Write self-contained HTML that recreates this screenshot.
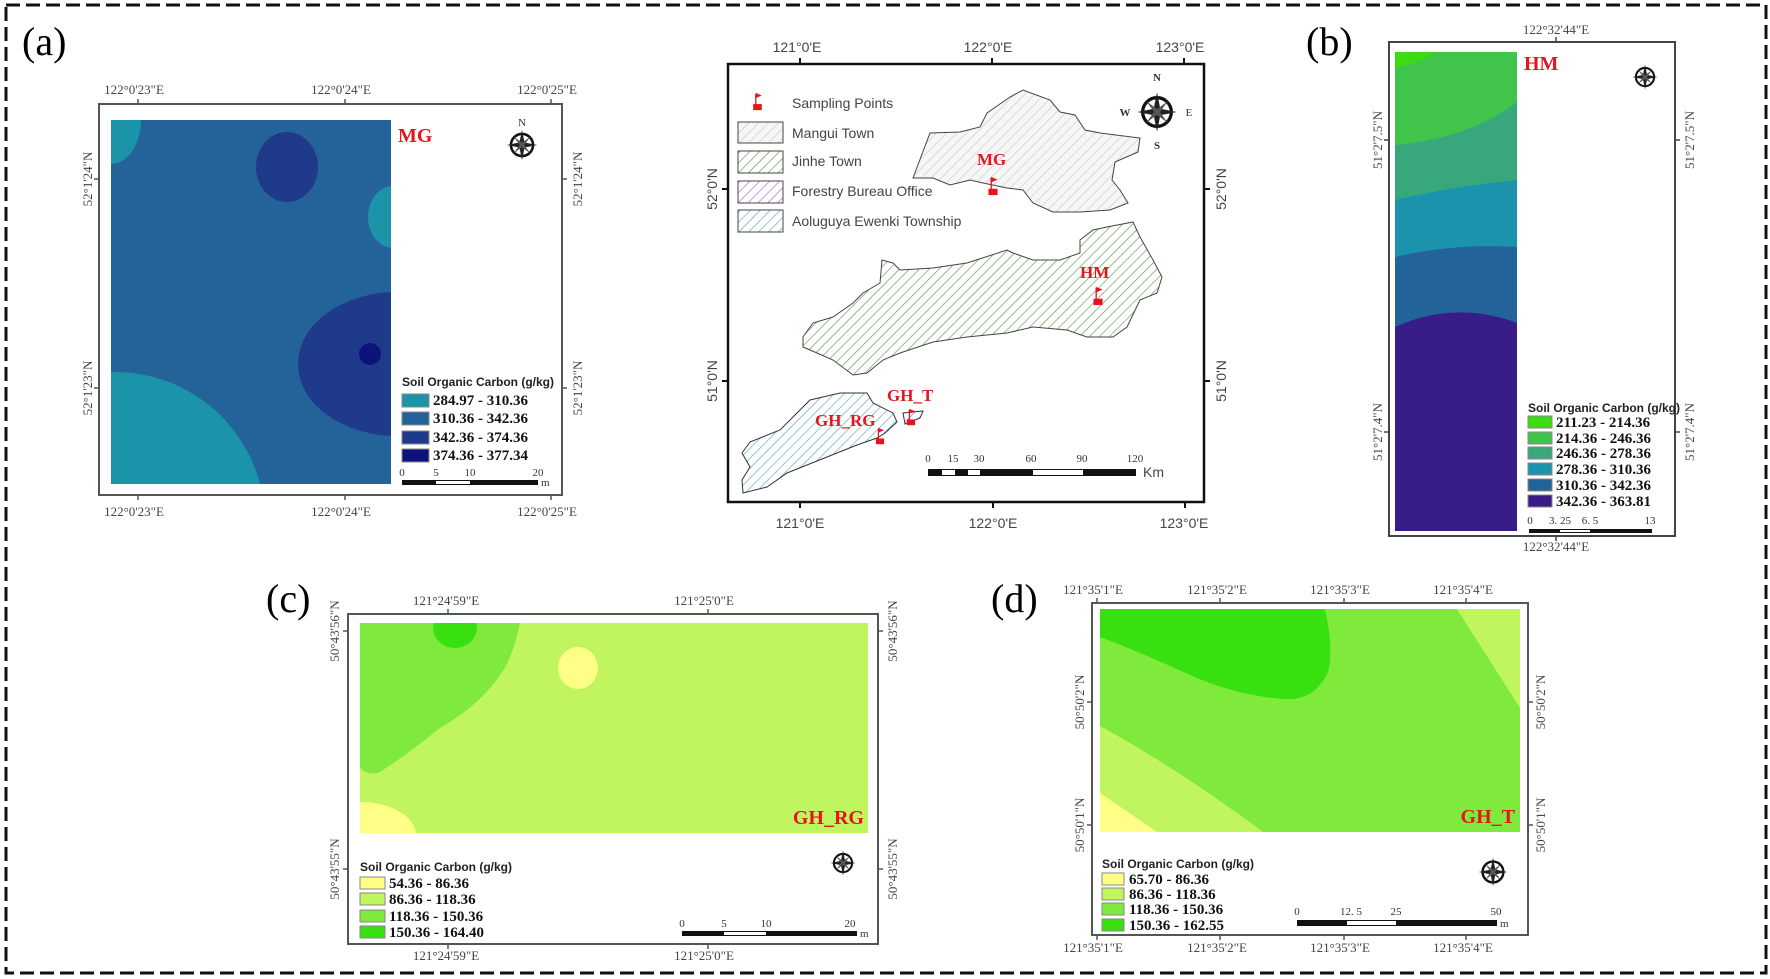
<!DOCTYPE html>
<html><head><meta charset="utf-8"><style>
html,body{margin:0;padding:0;background:#fff}
svg{display:block}
.t{font-family:"Liberation Serif",serif;fill:#444;font-size:13px}
.s{font-family:"Liberation Sans",sans-serif;fill:#444;font-size:14px}
.lt{font-family:"Liberation Sans",sans-serif;font-weight:bold;fill:#222;font-size:12px}
.lv{font-family:"Liberation Serif",serif;font-weight:bold;fill:#111;font-size:15px}
.red{font-family:"Liberation Serif",serif;font-weight:bold;fill:#e8141c}
.pl{font-family:"Liberation Serif",serif;fill:#000;font-size:40px}
.sc{font-family:"Liberation Serif",serif;fill:#333;font-size:11px}
</style></head><body>
<svg width="1770" height="979" viewBox="0 0 1770 979" xmlns="http://www.w3.org/2000/svg">
<defs>
<pattern id="hg" width="7" height="7" patternUnits="userSpaceOnUse" patternTransform="rotate(45)"><rect width="7" height="7" fill="#f6f6f6"/><line x1="0" y1="0" x2="0" y2="7" stroke="#c8c8c8" stroke-width="1.2"/></pattern>
<pattern id="hj" width="7" height="7" patternUnits="userSpaceOnUse" patternTransform="rotate(45)"><rect width="7" height="7" fill="#fff"/><line x1="0" y1="0" x2="0" y2="7" stroke="#5f9650" stroke-width="1.3"/></pattern>
<pattern id="ha" width="7" height="7" patternUnits="userSpaceOnUse" patternTransform="rotate(45)"><rect width="7" height="7" fill="#fff"/><line x1="0" y1="0" x2="0" y2="7" stroke="#5aa6c4" stroke-width="1.3"/></pattern>
<pattern id="hf" width="7" height="7" patternUnits="userSpaceOnUse" patternTransform="rotate(45)"><rect width="7" height="7" fill="#fff"/><line x1="0" y1="0" x2="0" y2="7" stroke="#b060d0" stroke-width="1.3"/></pattern>
<symbol id="cmp" viewBox="-20 -20 40 40">
<circle r="13" fill="none" stroke="#111" stroke-width="3"/>
<polygon points="0,-18 3,-3 18,0 3,3 0,18 -3,3 -18,0 -3,-3" fill="#222"/>
<polygon points="-10,-10 1,-2 10,10 -1,2" fill="#555"/>
<polygon points="10,-10 2,1 -10,10 -2,-1" fill="#555"/>
</symbol>
<symbol id="flag" viewBox="0 0 12 22"><rect x="1" y="14" width="10" height="7" fill="#e8141c"/><line x1="4" y1="2" x2="4" y2="15" stroke="#e8141c" stroke-width="1.5"/><polygon points="4,1 11,4 4,7" fill="#e8141c"/></symbol>
</defs>
<rect x="6" y="5" width="1760" height="968" fill="none" stroke="#111" stroke-width="3" stroke-dasharray="14,6"/>

<!-- (a) -->
<text class="pl" x="22" y="55">(a)</text>
<rect x="99" y="104" width="463" height="391" fill="#fff" stroke="#555" stroke-width="2"/>
<svg x="111" y="120" width="280" height="364" viewBox="111 120 280 364">
<rect x="111" y="120" width="280" height="364" fill="#236399"/>
<ellipse cx="111" cy="120" rx="30" ry="44" fill="#1b93a8"/>
<ellipse cx="287" cy="167" rx="31" ry="35" fill="#1f3a8a"/>
<ellipse cx="393" cy="217" rx="25" ry="31" fill="#1b93a8"/>
<ellipse cx="397" cy="364" rx="99" ry="72" fill="#1f3a8a"/>
<circle cx="370" cy="354" r="11" fill="#0c137a"/>
<circle cx="115" cy="522" r="150" fill="#1b93a8"/>
</svg>
<text class="red" x="398" y="142" font-size="20">MG</text>
<use href="#cmp" x="505" y="128" width="34" height="34"/>
<text class="sc" x="522" y="126" text-anchor="middle" font-size="8">N</text>
<text class="t" x="134" y="94" text-anchor="middle">122°0'23"E</text>
<text class="t" x="341" y="94" text-anchor="middle">122°0'24"E</text>
<text class="t" x="547" y="94" text-anchor="middle">122°0'25"E</text>
<text class="t" x="134" y="516" text-anchor="middle">122°0'23"E</text>
<text class="t" x="341" y="516" text-anchor="middle">122°0'24"E</text>
<text class="t" x="547" y="516" text-anchor="middle">122°0'25"E</text>
<g stroke="#555" stroke-width="1.5"><line x1="138" y1="99" x2="138" y2="104"/><line x1="345" y1="99" x2="345" y2="104"/><line x1="551" y1="99" x2="551" y2="104"/><line x1="138" y1="495" x2="138" y2="500"/><line x1="345" y1="495" x2="345" y2="500"/><line x1="551" y1="495" x2="551" y2="500"/><line x1="94" y1="179" x2="99" y2="179"/><line x1="94" y1="388" x2="99" y2="388"/><line x1="562" y1="179" x2="567" y2="179"/><line x1="562" y1="388" x2="567" y2="388"/></g>
<text class="t" transform="rotate(-90 88 179)" x="88" y="183" text-anchor="middle">52°1'24"N</text>
<text class="t" transform="rotate(-90 88 388)" x="88" y="392" text-anchor="middle">52°1'23"N</text>
<text class="t" transform="rotate(-90 578 179)" x="578" y="183" text-anchor="middle">52°1'24"N</text>
<text class="t" transform="rotate(-90 578 388)" x="578" y="392" text-anchor="middle">52°1'23"N</text>
<text class="lt" x="402" y="386">Soil Organic Carbon (g/kg)</text>
<rect x="402" y="394" width="27" height="13" fill="#1b93a8" stroke="#888"/><text class="lv" x="433" y="405">284.97 - 310.36</text>
<rect x="402" y="412" width="27" height="13" fill="#236399" stroke="#888"/><text class="lv" x="433" y="423">310.36 - 342.36</text>
<rect x="402" y="431" width="27" height="13" fill="#1f3a8a" stroke="#888"/><text class="lv" x="433" y="442">342.36 - 374.36</text>
<rect x="402" y="449" width="27" height="13" fill="#0c137a" stroke="#888"/><text class="lv" x="433" y="460">374.36 - 377.34</text>
<text class="sc" x="402" y="476" text-anchor="middle">0</text><text class="sc" x="436" y="476" text-anchor="middle">5</text><text class="sc" x="470" y="476" text-anchor="middle">10</text><text class="sc" x="538" y="476" text-anchor="middle">20</text>
<rect x="402" y="480" width="136" height="5" fill="#111"/><rect x="436" y="481" width="34" height="3" fill="#fff"/>
<text class="sc" x="541" y="486">m</text>

<!-- center map -->
<rect x="728" y="64" width="476" height="438" fill="#fff" stroke="#111" stroke-width="2.5"/>
<text class="s" x="797" y="52" text-anchor="middle">121°0'E</text>
<text class="s" x="988" y="52" text-anchor="middle">122°0'E</text>
<text class="s" x="1180" y="52" text-anchor="middle">123°0'E</text>
<text class="s" x="800" y="528" text-anchor="middle">121°0'E</text>
<text class="s" x="993" y="528" text-anchor="middle">122°0'E</text>
<text class="s" x="1184" y="528" text-anchor="middle">123°0'E</text>
<g stroke="#111" stroke-width="2"><line x1="800" y1="58" x2="800" y2="64"/><line x1="992" y1="58" x2="992" y2="64"/><line x1="1184" y1="58" x2="1184" y2="64"/><line x1="800" y1="502" x2="800" y2="508"/><line x1="993" y1="502" x2="993" y2="508"/><line x1="1185" y1="502" x2="1185" y2="508"/><line x1="722" y1="189" x2="728" y2="189"/><line x1="722" y1="381" x2="728" y2="381"/><line x1="1204" y1="189" x2="1210" y2="189"/><line x1="1204" y1="381" x2="1210" y2="381"/></g>
<text class="s" transform="rotate(-90 712 189)" x="712" y="194" text-anchor="middle">52°0'N</text>
<text class="s" transform="rotate(-90 712 381)" x="712" y="386" text-anchor="middle">51°0'N</text>
<text class="s" transform="rotate(-90 1221 189)" x="1221" y="194" text-anchor="middle">52°0'N</text>
<text class="s" transform="rotate(-90 1221 381)" x="1221" y="386" text-anchor="middle">51°0'N</text>
<polygon fill="url(#hg)" stroke="#444" stroke-width="1" points="913,178 930,133 960,132 980,127 987,113 1010,97 1023,90 1050,100 1060,112 1075,115 1085,130 1100,133 1140,138 1138,152 1115,162 1112,180 1120,190 1128,203 1110,210 1080,212 1053,212 1033,203 1023,190 1007,188 983,183 970,180 950,185 933,178"/>
<polygon fill="url(#hj)" stroke="#444" stroke-width="1" points="803,337 813,323 833,317 853,303 863,293 880,283 882,260 893,263 900,270 933,268 967,263 1007,250 1013,253 1033,260 1060,260 1080,253 1080,240 1093,230 1107,227 1133,222 1140,237 1153,260 1162,277 1157,293 1140,300 1127,327 1113,337 1087,337 1067,330 1033,327 1007,333 967,337 933,342 900,353 883,360 867,373 853,375 833,360 817,353 803,347"/>
<polygon fill="url(#ha)" stroke="#333" stroke-width="1" points="742,453 750,442 780,430 810,400 840,393 867,393 873,403 893,413 897,422 885,433 877,438 857,445 827,457 787,473 767,487 743,493 742,480 750,467"/>
<polygon fill="url(#hf)" stroke="#333" stroke-width="1" points="903,413 923,411 920,418 905,424"/>
<text class="red" x="977" y="165" font-size="17">MG</text><use href="#flag" x="987" y="176" width="12" height="20"/>
<text class="red" x="1080" y="278" font-size="17">HM</text><use href="#flag" x="1092" y="286" width="12" height="20"/>
<text class="red" x="887" y="401" font-size="17">GH_T</text><use href="#flag" x="905" y="408" width="12" height="18"/>
<text class="red" x="815" y="426" font-size="17">GH_RG</text><use href="#flag" x="874" y="427" width="12" height="18"/>
<use href="#cmp" x="1135" y="90" width="44" height="44"/>
<text class="sc" x="1157" y="81" text-anchor="middle" font-weight="bold">N</text><text class="sc" x="1157" y="149" text-anchor="middle" font-weight="bold">S</text><text class="sc" x="1125" y="116" text-anchor="middle" font-weight="bold">W</text><text class="sc" x="1189" y="116" text-anchor="middle">E</text>
<use href="#flag" x="752" y="92" width="11" height="19"/>
<text class="s" x="792" y="108" fill="#333" font-size="15">Sampling Points</text>
<rect x="738" y="122" width="45" height="21" fill="url(#hg)" stroke="#444"/><text class="s" x="792" y="138" font-size="15" fill="#333">Mangui Town</text>
<rect x="738" y="151" width="45" height="22" fill="url(#hj)" stroke="#444"/><text class="s" x="792" y="166" font-size="15" fill="#333">Jinhe Town</text>
<rect x="738" y="181" width="45" height="22" fill="url(#hf)" stroke="#444"/><text class="s" x="792" y="196" font-size="15" fill="#333">Forestry Bureau Office</text>
<rect x="738" y="210" width="45" height="22" fill="url(#ha)" stroke="#444"/><text class="s" x="792" y="226" font-size="15" fill="#333">Aoluguya Ewenki Township</text>
<g class="sc" font-size="13" text-anchor="middle"><text x="928" y="462">0</text><text x="953" y="462">15</text><text x="979" y="462">30</text><text x="1031" y="462">60</text><text x="1082" y="462">90</text><text x="1135" y="462">120</text></g>
<rect x="928" y="469" width="208" height="7" fill="#111"/><rect x="942" y="470" width="13" height="5" fill="#fff"/><rect x="968" y="470" width="12" height="5" fill="#fff"/><rect x="1033" y="470" width="50" height="5" fill="#fff"/>
<text class="s" x="1143" y="477" font-size="12">Km</text>

<!-- (b) -->
<text class="pl" x="1306" y="55">(b)</text>
<rect x="1389" y="42" width="286" height="494" fill="#fff" stroke="#444" stroke-width="2"/>
<svg x="1395" y="52" width="122" height="479" viewBox="1395 52 122 479">
<rect x="1395" y="52" width="122" height="479" fill="#381c88"/>
<path d="M1395,52 H1517 V323 Q1455,300 1395,327 Z" fill="#22649a"/>
<path d="M1395,52 H1517 V247 Q1455,243 1395,257 Z" fill="#1c93ac"/>
<path d="M1395,52 H1517 V180 Q1455,186 1395,200 Z" fill="#38a87c"/>
<path d="M1395,52 H1517 V102 Q1470,138 1395,145 Z" fill="#40c44c"/>
<path d="M1395,52 H1435 Q1420,64 1395,67 Z" fill="#3cdc14"/>
</svg>
<text class="red" x="1524" y="70" font-size="20">HM</text>
<use href="#cmp" x="1631" y="63" width="28" height="28"/>
<text class="t" x="1556" y="34" text-anchor="middle" font-size="12">122°32'44"E</text>
<text class="t" x="1556" y="551" text-anchor="middle" font-size="12">122°32'44"E</text>
<g stroke="#444" stroke-width="1.5"><line x1="1556" y1="37" x2="1556" y2="42"/><line x1="1556" y1="536" x2="1556" y2="541"/><line x1="1384" y1="140" x2="1389" y2="140"/><line x1="1384" y1="432" x2="1389" y2="432"/><line x1="1675" y1="140" x2="1680" y2="140"/><line x1="1675" y1="432" x2="1680" y2="432"/></g>
<text class="t" transform="rotate(-90 1378 140)" x="1378" y="144" text-anchor="middle" font-size="12">51°2'7.5"N</text>
<text class="t" transform="rotate(-90 1378 432)" x="1378" y="436" text-anchor="middle" font-size="12">51°2'7.4"N</text>
<text class="t" transform="rotate(-90 1690 140)" x="1690" y="144" text-anchor="middle" font-size="12">51°2'7.5"N</text>
<text class="t" transform="rotate(-90 1690 432)" x="1690" y="436" text-anchor="middle" font-size="12">51°2'7.4"N</text>
<text class="lt" x="1528" y="412" font-size="11">Soil Organic Carbon (g/kg)</text>
<rect x="1528" y="416" width="24" height="12" fill="#3cdc14" stroke="#888"/><text class="lv" x="1556" y="427" font-size="13">211.23 - 214.36</text>
<rect x="1528" y="432" width="24" height="12" fill="#40c44c" stroke="#888"/><text class="lv" x="1556" y="443" font-size="13">214.36 - 246.36</text>
<rect x="1528" y="447" width="24" height="12" fill="#38a87c" stroke="#888"/><text class="lv" x="1556" y="458" font-size="13">246.36 - 278.36</text>
<rect x="1528" y="463" width="24" height="12" fill="#1c93ac" stroke="#888"/><text class="lv" x="1556" y="474" font-size="13">278.36 - 310.36</text>
<rect x="1528" y="479" width="24" height="12" fill="#22649a" stroke="#888"/><text class="lv" x="1556" y="490" font-size="13">310.36 - 342.36</text>
<rect x="1528" y="495" width="24" height="12" fill="#381c88" stroke="#888"/><text class="lv" x="1556" y="506" font-size="13">342.36 - 363.81</text>
<g class="sc" font-size="9" text-anchor="middle"><text x="1530" y="524">0</text><text x="1560" y="524">3. 25</text><text x="1590" y="524">6. 5</text><text x="1650" y="524">13</text></g>
<rect x="1529" y="529" width="123" height="4" fill="#111"/><rect x="1560" y="530" width="30" height="2" fill="#fff"/>

<!-- (c) -->
<text class="pl" x="266" y="612">(c)</text>
<rect x="348" y="614" width="530" height="330" fill="#fff" stroke="#555" stroke-width="2"/>
<svg x="360" y="623" width="508" height="210" viewBox="360 623 508 210">
<rect x="360" y="623" width="508" height="210" fill="#c0f560"/>
<path d="M360,623 H520 Q512,660 500,675 Q480,705 440,728 Q400,760 378,773 Q365,775 360,767 Z" fill="#80ea3c"/>
<ellipse cx="455" cy="628" rx="22" ry="20" fill="#38e010"/>
<ellipse cx="578" cy="668" rx="20" ry="21" fill="#ffff88"/>
<ellipse cx="360" cy="835" rx="56" ry="33" fill="#ffff88"/>
</svg>
<text class="red" x="864" y="824" font-size="20" text-anchor="end">GH_RG</text>
<use href="#cmp" x="829" y="849" width="28" height="28"/>
<text class="t" x="446" y="605" text-anchor="middle">121°24'59"E</text>
<text class="t" x="704" y="605" text-anchor="middle">121°25'0"E</text>
<text class="t" x="446" y="960" text-anchor="middle">121°24'59"E</text>
<text class="t" x="704" y="960" text-anchor="middle">121°25'0"E</text>
<g stroke="#555" stroke-width="1.5"><line x1="448" y1="609" x2="448" y2="614"/><line x1="708" y1="609" x2="708" y2="614"/><line x1="448" y1="944" x2="448" y2="949"/><line x1="708" y1="944" x2="708" y2="949"/><line x1="343" y1="631" x2="348" y2="631"/><line x1="343" y1="869" x2="348" y2="869"/><line x1="878" y1="631" x2="883" y2="631"/><line x1="878" y1="869" x2="883" y2="869"/></g>
<text class="t" transform="rotate(-90 335 631)" x="335" y="635" text-anchor="middle">50°43'56"N</text>
<text class="t" transform="rotate(-90 335 869)" x="335" y="873" text-anchor="middle">50°43'55"N</text>
<text class="t" transform="rotate(-90 893 631)" x="893" y="635" text-anchor="middle">50°43'56"N</text>
<text class="t" transform="rotate(-90 893 869)" x="893" y="873" text-anchor="middle">50°43'55"N</text>
<text class="lt" x="360" y="871">Soil Organic Carbon (g/kg)</text>
<rect x="360" y="877" width="25" height="12" fill="#ffff88" stroke="#888"/><text class="lv" x="389" y="888">54.36 - 86.36</text>
<rect x="360" y="893" width="25" height="12" fill="#c0f560" stroke="#888"/><text class="lv" x="389" y="904">86.36 - 118.36</text>
<rect x="360" y="910" width="25" height="12" fill="#80ea3c" stroke="#888"/><text class="lv" x="389" y="921">118.36 - 150.36</text>
<rect x="360" y="926" width="25" height="12" fill="#38e010" stroke="#888"/><text class="lv" x="389" y="937">150.36 - 164.40</text>
<g class="sc" text-anchor="middle"><text x="682" y="927">0</text><text x="724" y="927">5</text><text x="766" y="927">10</text><text x="850" y="927">20</text></g>
<rect x="682" y="931" width="175" height="5" fill="#111"/><rect x="724" y="932" width="42" height="3" fill="#fff"/>
<text class="sc" x="860" y="937">m</text>

<!-- (d) -->
<text class="pl" x="991" y="612">(d)</text>
<rect x="1092" y="603" width="436" height="332" fill="#fff" stroke="#555" stroke-width="2"/>
<svg x="1100" y="609" width="420" height="223" viewBox="1100 609 420 223">
<rect x="1100" y="609" width="420" height="223" fill="#80ea3c"/>
<path d="M1457,609 H1520 V708 Z" fill="#c0f560"/>
<path d="M1100,609 H1325 Q1334,650 1328,672 Q1315,700 1287,699 Q1240,697 1190,675 Q1140,652 1100,637 Z" fill="#38e010"/>
<path d="M1100,726 Q1180,770 1263,832 H1100 Z" fill="#c0f560"/>
<path d="M1100,793 L1157,832 H1100 Z" fill="#ffff88"/>
</svg>
<text class="red" x="1515" y="823" font-size="20" text-anchor="end">GH_T</text>
<use href="#cmp" x="1477" y="856" width="32" height="32"/>
<text class="t" x="1093" y="594" text-anchor="middle">121°35'1"E</text>
<text class="t" x="1217" y="594" text-anchor="middle">121°35'2"E</text>
<text class="t" x="1340" y="594" text-anchor="middle">121°35'3"E</text>
<text class="t" x="1463" y="594" text-anchor="middle">121°35'4"E</text>
<text class="t" x="1093" y="952" text-anchor="middle">121°35'1"E</text>
<text class="t" x="1217" y="952" text-anchor="middle">121°35'2"E</text>
<text class="t" x="1340" y="952" text-anchor="middle">121°35'3"E</text>
<text class="t" x="1463" y="952" text-anchor="middle">121°35'4"E</text>
<g stroke="#555" stroke-width="1.5"><line x1="1097" y1="598" x2="1097" y2="603"/><line x1="1220" y1="598" x2="1220" y2="603"/><line x1="1344" y1="598" x2="1344" y2="603"/><line x1="1466" y1="598" x2="1466" y2="603"/><line x1="1097" y1="935" x2="1097" y2="940"/><line x1="1220" y1="935" x2="1220" y2="940"/><line x1="1344" y1="935" x2="1344" y2="940"/><line x1="1466" y1="935" x2="1466" y2="940"/><line x1="1087" y1="702" x2="1092" y2="702"/><line x1="1087" y1="825" x2="1092" y2="825"/><line x1="1528" y1="702" x2="1533" y2="702"/><line x1="1528" y1="825" x2="1533" y2="825"/></g>
<text class="t" transform="rotate(-90 1080 702)" x="1080" y="706" text-anchor="middle">50°50'2"N</text>
<text class="t" transform="rotate(-90 1080 825)" x="1080" y="829" text-anchor="middle">50°50'1"N</text>
<text class="t" transform="rotate(-90 1541 702)" x="1541" y="706" text-anchor="middle">50°50'2"N</text>
<text class="t" transform="rotate(-90 1541 825)" x="1541" y="829" text-anchor="middle">50°50'1"N</text>
<text class="lt" x="1102" y="868">Soil Organic Carbon (g/kg)</text>
<rect x="1102" y="873" width="22" height="12" fill="#ffff88" stroke="#888"/><text class="lv" x="1129" y="884">65.70 - 86.36</text>
<rect x="1102" y="888" width="22" height="12" fill="#c0f560" stroke="#888"/><text class="lv" x="1129" y="899">86.36 - 118.36</text>
<rect x="1102" y="903" width="22" height="12" fill="#80ea3c" stroke="#888"/><text class="lv" x="1129" y="914">118.36 - 150.36</text>
<rect x="1102" y="919" width="22" height="12" fill="#38e010" stroke="#888"/><text class="lv" x="1129" y="930">150.36 - 162.55</text>
<g class="sc" text-anchor="middle"><text x="1297" y="915">0</text><text x="1351" y="915">12. 5</text><text x="1396" y="915">25</text><text x="1496" y="915">50</text></g>
<rect x="1297" y="920" width="200" height="6" fill="#111"/><rect x="1347" y="921" width="49" height="4" fill="#fff"/>
<text class="sc" x="1500" y="927">m</text>
</svg>
</body></html>
